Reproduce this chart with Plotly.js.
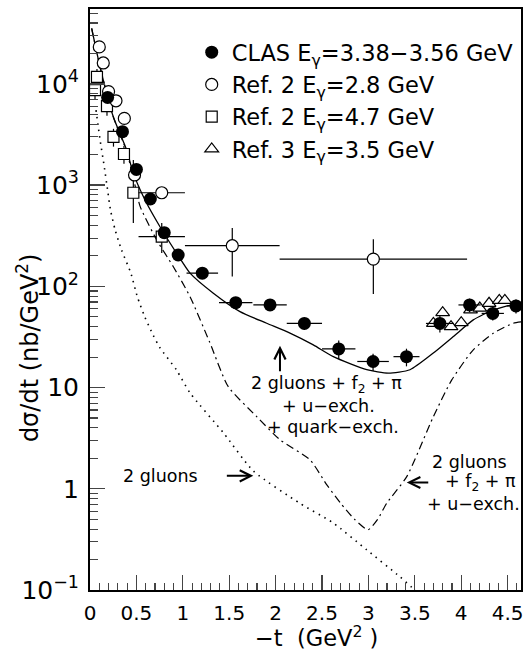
<!DOCTYPE html>
<html><head><meta charset="utf-8">
<script src="https://cdn.plot.ly/plotly-3.0.1.min.js"></script>
<style>html,body{margin:0;padding:0;background:#fff}#chart{width:529px;height:651px}</style>
</head><body><div id="chart"></div>
<script>
// ---- data ----
// CLAS, E_gamma = 3.38-3.56 GeV
const clasT    = [0.19, 0.35, 0.50, 0.65, 0.80, 0.95, 1.21, 1.57, 1.94, 2.31, 2.68, 3.05, 3.41, 3.77, 4.09, 4.34, 4.59];
const clasTErr = [0.04, 0.04, 0.04, 0.04, 0.04, 0.04, 0.17, 0.18, 0.18, 0.19, 0.18, 0.17, 0.14, 0.15, 0.12, 0.12, 0.10];
const clasDs   = [7360, 3370, 1430, 729, 339, 204, 135, 69, 65.5, 43, 24.1, 18.1, 20.2, 43, 65.5, 54, 64];
const clasDsErr= [700, 300, 150, 70, 35, 20, 13, 8, 7, 6, 5, 3.5, 4, 8, 10, 8, 10];
// Ref. 2, E_gamma = 2.8 GeV
const ref2aT     = [0.10, 0.143, 0.20, 0.28, 0.37, 0.48, 0.773, 1.533, 3.053];
const ref2aTErr  = [0, 0, 0, 0, 0, 0, 0.25, 0.51, 1.01];
const ref2aDs    = [23200, 16100, 8400, 6810, 4560, 1260, 841, 252, 186];
const ref2aErrUp = [2000, 1500, 800, 700, 500, 150, 90, 125, 106];
const ref2aErrDn = [2000, 1500, 800, 700, 500, 150, 90, 127, 102];
// Ref. 2, E_gamma = 4.7 GeV
const ref2bT     = [0.054, 0.075, 0.183, 0.253, 0.366, 0.467, 0.773];
const ref2bTErr  = [0.04, 0.04, 0, 0, 0, 0, 0.25];
const ref2bDs    = [8690, 11750, 6040, 3000, 2030, 841, 310];
const ref2bErrUp = [1700, 2300, 1200, 600, 400, 929, 113];
const ref2bErrDn = [1700, 2300, 1200, 600, 400, 418, 96];
// Ref. 3, E_gamma = 3.5 GeV
const ref3T  = [3.70, 3.80, 3.89, 4.00, 4.10, 4.20, 4.30, 4.41, 4.47];
const ref3Ds = [43, 55, 40, 43.8, 58.5, 61, 68, 72.6, 72.6];
// model: 2 gluons + f2 + pi + u-exch. + quark-exch.
const fullT  = [0.018, 0.108, 0.251, 0.395, 0.467, 0.593, 0.754, 0.934, 1.078, 1.329, 1.616, 1.904, 2.155, 2.406, 2.622, 2.982, 3.214, 3.448, 3.699, 3.915, 4.13, 4.346, 4.561, 4.645];
const fullDs = [35300, 14760, 4730, 2220, 1306, 713, 388, 212, 135, 85.5, 56.3, 43.2, 34.5, 26.4, 20.2, 15, 13.9, 15, 21.9, 31.9, 46.6, 58.5, 65.5, 61];
// model: 2 gluons + f2 + pi + u-exch.
const uT  = [0.018, 0.108, 0.251, 0.395, 0.47, 0.539, 0.719, 0.898, 1.078, 1.29, 1.49, 1.796, 2.047, 2.371, 2.55, 2.70, 2.85, 2.996, 3.10, 3.197, 3.413, 3.70, 3.898, 4.13, 4.346, 4.56, 4.645];
const uDs = [35300, 14760, 4730, 2150, 1150, 620, 287, 156, 79, 28, 10.2, 5.17, 3.05, 1.93, 1.1, 0.72, 0.5, 0.394, 0.5, 0.72, 1.32, 5.17, 11.9, 23.6, 34.4, 43.2, 44.5];
// model: 2 gluons
const gT  = [0.065, 0.108, 0.151, 0.19, 0.22, 0.27, 0.34, 0.44, 0.51, 0.59, 0.68, 0.75, 0.93, 1.08, 1.44, 1.76, 2.26, 2.62, 2.98, 3.34, 3.50, 3.66];
const gDs = [5500, 2820, 1580, 890, 575, 363, 229, 135, 79, 50, 33, 25, 15, 8.8, 3.55, 1.5, 0.72, 0.46, 0.25, 0.135, 0.1, 0.076];

const FONT = 'DejaVu Sans';
const lineOpts = (dash, w) => ({color: 'black', width: w, dash: dash, shape: 'spline', smoothing: 0.6});

const traces = [
  {x: gT, y: gDs, mode: 'lines', line: lineOpts('1.5px,5px', 1.6), showlegend: false, hoverinfo: 'skip'},
  {x: uT, y: uDs, mode: 'lines', line: lineOpts('8px,4px,2px,4px', 1.2), showlegend: false, hoverinfo: 'skip'},
  {x: fullT, y: fullDs, mode: 'lines', line: lineOpts('solid', 1.3), showlegend: false, hoverinfo: 'skip'},
  {x: ref3T, y: ref3Ds, mode: 'markers', name: 'Ref. 3 E<sub>γ</sub>=3.5 GeV', legendrank: 4,
   marker: {symbol: 'triangle-up', size: 12, color: 'white', line: {color: 'black', width: 1.2}}},
  {x: ref2bT, y: ref2bDs, mode: 'markers', name: 'Ref. 2 E<sub>γ</sub>=4.7 GeV', legendrank: 3,
   marker: {symbol: 'square', size: 11, color: 'white', line: {color: 'black', width: 1.2}},
   error_x: {type: 'data', array: ref2bTErr, width: 0, thickness: 1.2, color: 'black'},
   error_y: {type: 'data', symmetric: false, array: ref2bErrUp, arrayminus: ref2bErrDn, width: 0, thickness: 1.2, color: 'black'}},
  {x: ref2aT, y: ref2aDs, mode: 'markers', name: 'Ref. 2 E<sub>γ</sub>=2.8 GeV', legendrank: 2,
   marker: {symbol: 'circle', size: 12, color: 'white', line: {color: 'black', width: 1.2}},
   error_x: {type: 'data', array: ref2aTErr, width: 0, thickness: 1.2, color: 'black'},
   error_y: {type: 'data', symmetric: false, array: ref2aErrUp, arrayminus: ref2aErrDn, width: 0, thickness: 1.2, color: 'black'}},
  {x: clasT, y: clasDs, mode: 'markers', name: 'CLAS E<sub>γ</sub>=3.38−3.56 GeV', legendrank: 1,
   marker: {symbol: 'circle', size: 13, color: 'black'},
   error_x: {type: 'data', array: clasTErr, width: 0, thickness: 1.2, color: 'black'},
   error_y: {type: 'data', array: clasDsErr, width: 0, thickness: 1.2, color: 'black'}}
];

const ann = (x, y, text, extra) => Object.assign({x: x, y: y, xref: 'x', yref: 'y', text: text, showarrow: false,
  xanchor: 'center', yanchor: 'middle', font: {family: FONT, size: 17.5, color: 'black'}}, extra || {});
const arrow = (x, y, ax, ay) => ({x: x, y: y, xref: 'x', yref: 'y', text: '', showarrow: true, arrowhead: 5,
  arrowsize: 1.1, arrowwidth: 2, arrowcolor: 'black', ax: ax, ay: ay, standoff: 0});

const layout = {
  width: 529, height: 651,
  margin: {l: 90, r: 8, t: 9, b: 60.5},
  paper_bgcolor: 'white', plot_bgcolor: 'white',
  font: {family: FONT, color: 'black'},
  showlegend: true,
  legend: {x: 0.236, y: 0.962, xanchor: 'left', yanchor: 'top', bgcolor: 'rgba(0,0,0,0)',
           font: {family: FONT, size: 22.5, color: 'black'}, traceorder: 'normal'},
  xaxis: {range: [0, 4.644], tick0: 0, dtick: 0.5, ticks: 'inside', ticklen: 15, tickwidth: 1.3,
          minor: {dtick: 0.1, ticks: 'inside', ticklen: 7, tickwidth: 1.1},
          showline: true, linewidth: 2, linecolor: 'black', mirror: true, showgrid: false, zeroline: false,
          tickfont: {family: FONT, size: 20}, ticklabelstandoff: 4},
  yaxis: {type: 'log', range: [-1, 4.74], tickmode: 'linear', tick0: 0, dtick: 1, exponentformat: 'power',
          ticks: 'inside', ticklen: 15, tickwidth: 1.3,
          minor: {dtick: 'D1', ticks: 'inside', ticklen: 8, tickwidth: 1.1},
          showline: true, linewidth: 2, linecolor: 'black', mirror: true, showgrid: false, zeroline: false,
          tickfont: {family: FONT, size: 20}, ticklabelstandoff: 5},
  annotations: [
    {x: 0.5255, y: -0.0794, xref: 'paper', yref: 'paper', text: '−t\u00a0\u00a0(GeV<sup>2</sup>\u00a0)', showarrow: false,
     xanchor: 'center', yanchor: 'middle', font: {family: FONT, size: 22.5, color: 'black'}},
    {x: -0.1439, y: 0.418, xref: 'paper', yref: 'paper', text: 'dσ/dt (nb/GeV<sup>2</sup>)', textangle: -90, showarrow: false,
     xanchor: 'center', yanchor: 'middle', font: {family: FONT, size: 24, color: 'black'}},
    ann(2.548, 1.027, '2 gluons + f<sub>2</sub> + π'),
    ann(2.570, 0.819, '+ u−exch.'),
    ann(2.619, 0.612, '+ quark−exch.'),
    arrow(2.047, 1.412, 0, 27),
    ann(0.763, 0.128, '2 gluons'),
    arrow(1.76, 0.128, -28, 0),
    ann(4.084, 0.267, '2 gluons'),
    ann(4.203, 0.059, '+ f<sub>2</sub> + π'),
    ann(4.127, -0.148, '+ u−exch.'),
    arrow(3.413, 0.062, 23, 0)
  ]
};

Plotly.newPlot('chart', traces, layout, {staticPlot: true, displayModeBar: false});
</script></body></html>
